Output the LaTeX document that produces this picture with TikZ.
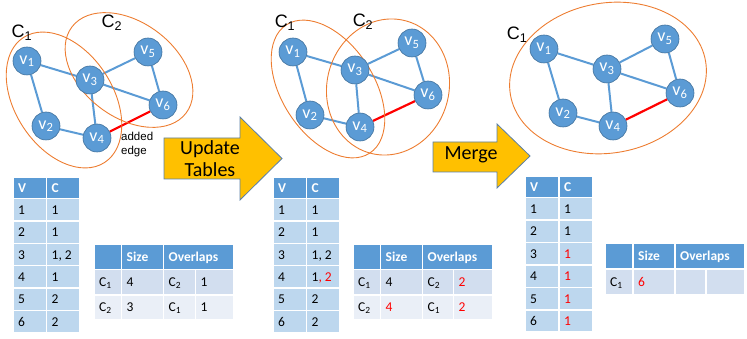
\documentclass[tikz,border=0pt]{standalone}
\usepackage{fontspec}
\setmainfont{Carlito}
\newfontfamily\arialf{Liberation Sans}
\usetikzlibrary{shapes.geometric,backgrounds}
\definecolor{nodeblue}{HTML}{5B9BD5}
\definecolor{nodeedge}{HTML}{41719C}
\definecolor{orng}{HTML}{ED7D31}
\definecolor{hdr}{HTML}{5B9BD5}
\definecolor{cellA}{HTML}{BDD7EE}
\definecolor{bandA}{HTML}{D2DEEF}
\definecolor{bandB}{HTML}{EAEFF7}
\definecolor{arrowfill}{HTML}{FFC000}
\definecolor{arrowedge}{HTML}{5A7FA8}
\definecolor{redtxt}{HTML}{FF0000}
\newcommand{\hd}[1]{\textcolor{white}{\bfseries #1}}
\newcommand{\rd}[1]{\textcolor{redtxt}{#1}}
% name, x1, y1, x2, y2, fill, text
\newcommand{\tc}[7]{%
  \node[cellbox, fill=#6, minimum width={((#4)-(#2))*1pt}, minimum height={((#5)-(#3))*1pt}, anchor=north west] (#1) at (#2,#3) {};
  \node[celltext, anchor=base west] (#1t) at ([xshift=6pt,yshift=-4.6pt]#1.west) {#7};
}
\begin{document}
\begin{tikzpicture}[x=1pt,y=-1pt,
  vert/.style={circle, fill=nodeblue, draw=nodeedge, line width=0.6pt, minimum size=28pt, inner sep=0pt, text=white, font=\fontsize{18}{18}\selectfont},
  gedge/.style={draw=nodeblue, line width=2pt},
  newedge/.style={draw=redtxt, line width=2.2pt},
  comm/.style={ellipse, draw=orng, line width=0.9pt, inner sep=0pt},
  clab/.style={font=\arialf\fontsize{18}{18}\selectfont, inner sep=0pt},
  cellbox/.style={draw=white, line width=1.5pt, inner sep=0pt},
  celltext/.style={inner sep=0pt, font=\fontsize{13.5}{14}\selectfont},
  blockarrow/.style={fill=arrowfill, draw=arrowedge, line width=0.8pt, line join=miter},
  arrowtext/.style={align=center, inner sep=0pt, font=\fontsize{20}{22}\selectfont}
]
\useasboundingbox (0,0) rectangle (747,339);

% ---------- Graph 1 ----------
\node[comm, minimum width=149pt, minimum height=98pt, rotate=-57] (g1c1) at (64,100) {};
\node[comm, minimum width=143pt, minimum height=95pt, rotate=-37] (g1c2) at (129,70) {};
\node[clab] (g1l1) at (22,33) {C\textsubscript{1}};
\node[clab] (g1l2) at (112,23) {C\textsubscript{2}};
\node[vert] (a1) at (27,61) {v\textsubscript{1}};
\node[vert] (a2) at (46,126) {v\textsubscript{2}};
\node[vert] (a3) at (90,80) {v\textsubscript{3}};
\node[vert] (a4) at (97,138) {v\textsubscript{4}};
\node[vert] (a5) at (148,52) {v\textsubscript{5}};
\node[vert] (a6) at (163,105) {v\textsubscript{6}};
\begin{pgfonlayer}{background}
\draw[gedge] (a1) -- (a3) (a1) -- (a2) (a2) -- (a4) (a3) -- (a4) (a3) -- (a5) (a3) -- (a6) (a5) -- (a6);
\draw[newedge] (a4) -- (a6);
\end{pgfonlayer}
\node[font=\arialf\fontsize{11.5}{14}\selectfont, align=left, inner sep=0pt, anchor=north west] (addl) at (121,132) {added\\edge};

% ---------- Arrow 1 ----------
\draw[blockarrow] (164,138) -- (240,138) -- (240,117) -- (282,158.5) -- (240,200) -- (240,179) -- (164,179) -- cycle;
\node[arrowtext] (upd) at (210,159) {Update\\Tables};

% ---------- Graph 2 ----------
\node[comm, minimum width=153pt, minimum height=92pt, rotate=-57] (g2c1) at (328,89) {};
\node[comm, minimum width=122pt, minimum height=137pt, rotate=-15] (g2c2) at (388,87) {};
\node[clab] (g2l1) at (285,23) {C\textsubscript{1}};
\node[clab] (g2l2) at (363,22) {C\textsubscript{2}};
\node[vert] (b1) at (293,52) {v\textsubscript{1}};
\node[vert] (b2) at (310,115) {v\textsubscript{2}};
\node[vert] (b3) at (355,70) {v\textsubscript{3}};
\node[vert] (b4) at (360,127) {v\textsubscript{4}};
\node[vert] (b5) at (412,43) {v\textsubscript{5}};
\node[vert] (b6) at (428,95) {v\textsubscript{6}};
\begin{pgfonlayer}{background}
\draw[gedge] (b1) -- (b3) (b1) -- (b2) (b2) -- (b4) (b3) -- (b4) (b3) -- (b5) (b3) -- (b6) (b5) -- (b6);
\draw[newedge] (b4) -- (b6);
\end{pgfonlayer}

% ---------- Arrow 2 ----------
\draw[blockarrow] (433,142) -- (497,142) -- (497,124) -- (530,156) -- (497,188) -- (497,172) -- (433,172) -- cycle;
\node[arrowtext] (mrg) at (471,155) {Merge};

% ---------- Graph 3 ----------
\node[comm, minimum width=198pt, minimum height=150pt, rotate=10] (g3c1) at (608,78) {};
\node[clab] (g3l1) at (517,35) {C\textsubscript{1}};
\node[vert] (c1) at (544,49) {v\textsubscript{1}};
\node[vert] (c2) at (563,113) {v\textsubscript{2}};
\node[vert] (c3) at (607,69) {v\textsubscript{3}};
\node[vert] (c4) at (613,126) {v\textsubscript{4}};
\node[vert] (c5) at (665,39) {v\textsubscript{5}};
\node[vert] (c6) at (680,93) {v\textsubscript{6}};
\begin{pgfonlayer}{background}
\draw[gedge] (c1) -- (c3) (c1) -- (c2) (c2) -- (c4) (c3) -- (c4) (c3) -- (c5) (c3) -- (c6) (c5) -- (c6);
\draw[newedge] (c4) -- (c6);
\end{pgfonlayer}

% ---------- Table 1: V / C ----------
\tc{pah}{12}{176.5}{45.5}{198}{hdr}{\hd{V}}
\tc{pbh}{45.5}{176.5}{79}{198}{hdr}{\hd{C}}
\tc{pa1}{12}{198}{45.5}{220.3}{cellA}{1}
\tc{pb1}{45.5}{198}{79}{220.3}{cellA}{1}
\tc{pa2}{12}{220.3}{45.5}{242.6}{cellA}{2}
\tc{pb2}{45.5}{220.3}{79}{242.6}{cellA}{1}
\tc{pa3}{12}{242.6}{45.5}{264.9}{cellA}{3}
\tc{pb3}{45.5}{242.6}{79}{264.9}{cellA}{1, 2}
\tc{pa4}{12}{264.9}{45.5}{287.2}{cellA}{4}
\tc{pb4}{45.5}{264.9}{79}{287.2}{cellA}{1}
\tc{pa5}{12}{287.2}{45.5}{309.5}{cellA}{5}
\tc{pb5}{45.5}{287.2}{79}{309.5}{cellA}{2}
\tc{pa6}{12}{309.5}{45.5}{331.8}{cellA}{6}
\tc{pb6}{45.5}{309.5}{79}{331.8}{cellA}{2}

% ---------- Table 1: Size / Overlaps ----------
\tc{qh0}{93}{243.5}{120.5}{268.5}{hdr}{}
\tc{qh1}{120.5}{243.5}{162.5}{268.5}{hdr}{\hd{Size}}
\tc{qh2}{162.5}{243.5}{233}{268.5}{hdr}{\hd{Overlaps}}
\tc{qa0}{93}{268.5}{120.5}{294}{bandA}{C\textsubscript{1}}
\tc{qa1}{120.5}{268.5}{162.5}{294}{bandA}{4}
\tc{qa2}{162.5}{268.5}{194.5}{294}{bandA}{C\textsubscript{2}}
\tc{qa3}{194.5}{268.5}{233}{294}{bandA}{1}
\tc{qb0}{93}{294}{120.5}{318.5}{bandB}{C\textsubscript{2}}
\tc{qb1}{120.5}{294}{162.5}{318.5}{bandB}{3}
\tc{qb2}{162.5}{294}{194.5}{318.5}{bandB}{C\textsubscript{1}}
\tc{qb3}{194.5}{294}{233}{318.5}{bandB}{1}

% ---------- Table 2: V / C ----------
\tc{rah}{272}{176.5}{305.5}{198}{hdr}{\hd{V}}
\tc{rbh}{305.5}{176.5}{339}{198}{hdr}{\hd{C}}
\tc{ra1}{272}{198}{305.5}{220.3}{cellA}{1}
\tc{rb1}{305.5}{198}{339}{220.3}{cellA}{1}
\tc{ra2}{272}{220.3}{305.5}{242.6}{cellA}{2}
\tc{rb2}{305.5}{220.3}{339}{242.6}{cellA}{1}
\tc{ra3}{272}{242.6}{305.5}{264.9}{cellA}{3}
\tc{rb3}{305.5}{242.6}{339}{264.9}{cellA}{1, 2}
\tc{ra4}{272}{264.9}{305.5}{287.2}{cellA}{4}
\tc{rb4}{305.5}{264.9}{339}{287.2}{cellA}{1\rd{, 2}}
\tc{ra5}{272}{287.2}{305.5}{309.5}{cellA}{5}
\tc{rb5}{305.5}{287.2}{339}{309.5}{cellA}{2}
\tc{ra6}{272}{309.5}{305.5}{331.8}{cellA}{6}
\tc{rb6}{305.5}{309.5}{339}{331.8}{cellA}{2}

% ---------- Table 2: Size / Overlaps ----------
\tc{sh0}{352}{243.5}{379.5}{268.5}{hdr}{}
\tc{sh1}{379.5}{243.5}{421.5}{268.5}{hdr}{\hd{Size}}
\tc{sh2}{421.5}{243.5}{492}{268.5}{hdr}{\hd{Overlaps}}
\tc{sa0}{352}{268.5}{379.5}{294}{bandA}{C\textsubscript{1}}
\tc{sa1}{379.5}{268.5}{421.5}{294}{bandA}{4}
\tc{sa2}{421.5}{268.5}{452.5}{294}{bandA}{C\textsubscript{2}}
\tc{sa3}{452.5}{268.5}{492}{294}{bandA}{\rd{2}}
\tc{sb0}{352}{294}{379.5}{318.5}{bandB}{C\textsubscript{2}}
\tc{sb1}{379.5}{294}{421.5}{318.5}{bandB}{\rd{4}}
\tc{sb2}{421.5}{294}{452.5}{318.5}{bandB}{C\textsubscript{1}}
\tc{sb3}{452.5}{294}{492}{318.5}{bandB}{\rd{2}}

% ---------- Table 3: V / C ----------
\tc{tah}{524}{175.5}{558}{197}{hdr}{\hd{V}}
\tc{tbh}{558}{175.5}{592}{197}{hdr}{\hd{C}}
\tc{ta1}{524}{197}{558}{219.4}{cellA}{1}
\tc{tb1}{558}{197}{592}{219.4}{cellA}{1}
\tc{ta2}{524}{219.4}{558}{241.8}{cellA}{2}
\tc{tb2}{558}{219.4}{592}{241.8}{cellA}{1}
\tc{ta3}{524}{241.8}{558}{264.2}{cellA}{3}
\tc{tb3}{558}{241.8}{592}{264.2}{cellA}{\rd{1}}
\tc{ta4}{524}{264.2}{558}{286.6}{cellA}{4}
\tc{tb4}{558}{264.2}{592}{286.6}{cellA}{\rd{1}}
\tc{ta5}{524}{286.6}{558}{309}{cellA}{5}
\tc{tb5}{558}{286.6}{592}{309}{cellA}{\rd{1}}
\tc{ta6}{524}{309}{558}{331.4}{cellA}{6}
\tc{tb6}{558}{309}{592}{331.4}{cellA}{\rd{1}}

% ---------- Table 3: Size / Overlaps ----------
\tc{uh0}{604}{243}{632}{268}{hdr}{}
\tc{uh1}{632}{243}{674}{268}{hdr}{\hd{Size}}
\tc{uh2}{674}{243}{744}{268}{hdr}{\hd{Overlaps}}
\tc{ua0}{604}{268}{632}{293.5}{bandA}{C\textsubscript{1}}
\tc{ua1}{632}{268}{674}{293.5}{bandA}{\rd{6}}
\tc{ua2}{674}{268}{705}{293.5}{bandA}{}
\tc{ua3}{705}{268}{744}{293.5}{bandA}{}
\end{tikzpicture}
\end{document}
